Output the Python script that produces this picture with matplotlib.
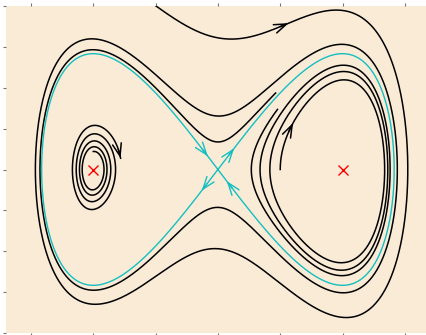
import numpy as np
import matplotlib
matplotlib.use('Agg')
import matplotlib.pyplot as plt

# ---- data ----
MU = 0.43                      # strength of the energy-pumping/damping term
X_LIM = (-1.7, 1.7)
Y_LIM = (-1.0, 1.0)
X_TICKS = [-1.5, -1.0, -0.5, 0.0, 0.5, 1.0, 1.5]
Y_TICKS = [-1.0, -0.75, -0.5, -0.25, 0.0, 0.25, 0.5, 0.75, 1.0]
EQ_X = [-1.0, 1.0]
EQ_Y = [0.0, 0.0]

TRAJ_NAMES = ['outer', 'right', 'left']
TRAJ_START = [(-0.5, 1.0), (0.5, 0.0), (-1.0, 0.11)]
TRAJ_END = [(0.46, 0.47), (0.48, 0.367), (-0.77, 0.07)]
TRAJ_ARROW = [(0.56, 0.905), (0.59, 0.29), (-0.77, 0.07)]
TRAJ_TMAX = [80.0, 50.0, 40.0]

SEP_ARROW_TIPS = [(0.13, 0.13), (-0.08, 0.08), (-0.13, -0.13), (0.07, -0.07)]
SEP_ARROW_LOBE = [1, -1, -1, 1]

PX_X = 124.67
PX_Y = 163.6


def energy(x, y):
    return 0.5 * y * y - 0.5 * x * x + 0.25 * x ** 4


def field(s):
    x, y = s
    H = energy(x, y)
    return np.array([y, x - x ** 3 - MU * H * y])


def integrate(s0, tmax, dt=0.004):
    n = int(tmax / dt)
    out = np.empty((n + 1, 2))
    s = np.array(s0, dtype=float)
    out[0] = s
    for i in range(n):
        k1 = field(s)
        k2 = field(s + 0.5 * dt * k1)
        k3 = field(s + 0.5 * dt * k2)
        k4 = field(s + dt * k3)
        s = s + dt / 6.0 * (k1 + 2 * k2 + 2 * k3 + k4)
        out[i + 1] = s
    return out


def nearest(tr, p):
    d = ((tr[:, 0] - p[0]) * PX_X) ** 2 + ((tr[:, 1] - p[1]) * PX_Y) ** 2
    return int(np.argmin(d))


def back_index(tr, i, px=9.0):
    seg = np.hypot(np.diff(tr[:i + 1, 0]) * PX_X, np.diff(tr[:i + 1, 1]) * PX_Y)
    acc = np.cumsum(seg[::-1])
    k = int(np.searchsorted(acc, px))
    return max(i - k - 1, 0)


fig = plt.figure(figsize=(4.27, 3.35), dpi=100, facecolor='white')
ax = fig.add_axes([6 / 427, 1.7 / 335, 423.8 / 427, 327.6 / 335])
ax.set_facecolor('#FAEBD7')

arrow_kw = dict(arrowstyle='->,head_length=0.45,head_width=0.16',
                mutation_scale=20, shrinkA=0, shrinkB=0)

for s0, pe, pa, tmax in zip(TRAJ_START, TRAJ_END, TRAJ_ARROW, TRAJ_TMAX):
    tr = integrate(s0, tmax)
    He = energy(*pe)
    H = energy(tr[:, 0], tr[:, 1])
    ref = -0.25 if He < -0.15 else 0.0
    rel = (H - ref) / (He - ref)
    # keep the part of the run before it has gone well past the end energy
    if He - ref > 0 and ref == 0.0:
        past = np.nonzero(rel < 0.55)[0]
    else:
        past = np.nonzero(rel > 1.8)[0] if ref < 0 else np.nonzero(rel < 0.55)[0]
    if len(past):
        tr = tr[:past[0]]
    iend = nearest(tr, pe)
    tr = tr[:iend + 1]
    ax.plot(tr[:, 0], tr[:, 1], color='k', lw=1.1)
    ia = nearest(tr, pa)
    ib = back_index(tr, ia)
    ax.annotate('', xy=tuple(tr[ia]), xytext=tuple(tr[ib]),
                arrowprops=dict(color='k', lw=1.1, **arrow_kw))

# separatrix (H = 0), both lobes
t = np.linspace(-14, 14, 4001)
for lobe in (1, -1):
    xs = lobe * np.sqrt(2) / np.cosh(t)
    ys = -lobe * np.sqrt(2) * np.tanh(t) / np.cosh(t)
    ax.plot(xs, ys, color='#13BFC0', lw=1.0)
for tip, lobe in zip(SEP_ARROW_TIPS, SEP_ARROW_LOBE):
    xs = lobe * np.sqrt(2) / np.cosh(t)
    ys = -lobe * np.sqrt(2) * np.tanh(t) / np.cosh(t)
    tr = np.column_stack([xs, ys])
    ia = nearest(tr, tip)
    ib = back_index(tr, ia)
    ax.annotate('', xy=tuple(tr[ia]), xytext=tuple(tr[ib]),
                arrowprops=dict(color='#13BFC0', lw=1.0, **arrow_kw))

ax.plot(EQ_X, EQ_Y, linestyle='none', marker='x', color='red', ms=6.5, mew=1.0)

ax.set_xlim(*X_LIM)
ax.set_ylim(*Y_LIM)
ax.set_xticks(X_TICKS)
ax.set_yticks(Y_TICKS)
ax.set_xticklabels([])
ax.set_yticklabels([])
ax.tick_params(which='both', direction='out', length=2, width=0.8, color='0.45',
               top=True, bottom=True, left=True, right=True)
for sp in ax.spines.values():
    sp.set_visible(False)

fig.savefig('out.png', dpi=100, facecolor='white')
